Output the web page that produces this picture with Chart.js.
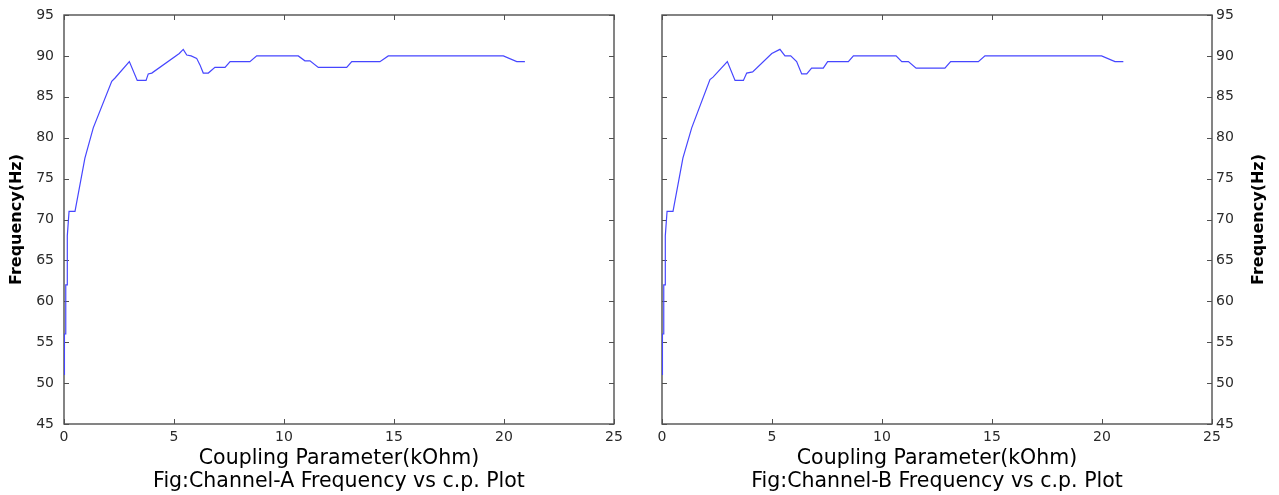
<!DOCTYPE html>
<html>
<head>
<meta charset="utf-8">
<title>Channel frequency vs coupling parameter</title>
<script src="https://cdn.jsdelivr.net/npm/chart.js@4/dist/chart.umd.min.js"></script>
<style>
  body { margin: 0; background: #fff; }
  #wrap { position: relative; width: 1279px; height: 495px; }
  #chartA { position: absolute; left: 0; top: 0; }
  #chartB { position: absolute; left: 640px; top: 0; }
</style>
</head>
<body>
<div id="wrap">
  <canvas id="chartA" width="640" height="495"></canvas>
  <canvas id="chartB" width="639" height="495"></canvas>
</div>
<script>
// coupling parameter (kOhm) and measured frequency (Hz), channel A
const cpA = [0.02, 0.02, 0.08, 0.08, 0.15, 0.15, 0.23, 0.5, 0.95, 1.33, 2.17, 2.32, 2.97, 3.33, 3.73, 3.83, 3.99,
  5.24, 5.42, 5.58, 5.78, 6.03, 6.18, 6.33, 6.56, 6.86, 7.32, 7.55, 8.45, 8.76, 10.65, 10.95, 11.18, 11.56,
  12.85, 13.08, 14.36, 14.74, 19.97, 20.58, 20.95];
const freqA = [51, 56, 56, 62, 62, 68, 71, 71, 77.5, 81.2, 86.9, 87.3, 89.3, 87.0, 87.0, 87.8, 87.9,
  90.3, 90.8, 90.1, 90.0, 89.7, 88.9, 87.9, 87.9, 88.6, 88.6, 89.3, 89.3, 90.0, 90.0, 89.4, 89.4, 88.6,
  88.6, 89.3, 89.3, 90.0, 90.0, 89.3, 89.3];

// channel B
const cpB = [0.02, 0.02, 0.08, 0.08, 0.15, 0.15, 0.23, 0.5, 0.95, 1.35, 2.18, 2.32, 2.97, 3.32, 3.70, 3.85, 4.12,
  4.99, 5.36, 5.59, 5.85, 6.12, 6.35, 6.58, 6.8, 7.33, 7.53, 8.47, 8.7, 10.64, 10.9, 11.2, 11.55,
  12.86, 13.12, 14.38, 14.68, 19.98, 20.59, 20.97];
const freqB = [51, 56, 56, 62, 62, 68, 71, 71, 77.5, 81.2, 87.1, 87.4, 89.3, 87.0, 87.0, 87.9, 88.05,
  90.3, 90.8, 90.0, 90.0, 89.3, 87.8, 87.8, 88.5, 88.5, 89.3, 89.3, 90.0, 90.0, 89.3, 89.3, 88.5,
  88.5, 89.3, 89.3, 90.0, 90.0, 89.3, 89.3];

const xTitle = 'Coupling Parameter(kOhm)';
const yTitle = 'Frequency(Hz)';
const captionA = 'Fig:Channel-A Frequency vs c.p. Plot';
const captionB = 'Fig:Channel-B Frequency vs c.p. Plot';

Chart.defaults.font.family = '"DejaVu Sans", sans-serif';
Chart.defaults.color = '#222';

const yTitleFont = 'bold 16px "DejaVu Sans", sans-serif';

// box around the plot area with inward tick marks on all four sides,
// plus the y title on the right panel (read bottom to top like the left one)
const boxFrame = {
  id: 'boxFrame',
  beforeDatasetsDraw(chart, args, opts) {
    const { ctx, chartArea: a, scales: { x, y } } = chart;
    const len = 5;
    ctx.save();
    ctx.strokeStyle = '#505050';
    ctx.lineWidth = 1.4;
    ctx.strokeRect(a.left, a.top, a.right - a.left, a.bottom - a.top);
    ctx.beginPath();
    x.ticks.forEach(t => {
      const px = Math.round(x.getPixelForValue(t.value)) + 0.5;
      ctx.moveTo(px, a.bottom); ctx.lineTo(px, a.bottom - len);
      ctx.moveTo(px, a.top); ctx.lineTo(px, a.top + len);
    });
    y.ticks.forEach(t => {
      const py = Math.round(y.getPixelForValue(t.value)) + 0.5;
      ctx.moveTo(a.left, py); ctx.lineTo(a.left + len, py);
      ctx.moveTo(a.right, py); ctx.lineTo(a.right - len, py);
    });
    ctx.lineWidth = 1;
    ctx.stroke();

    if (opts.rightTitle) {
      ctx.translate(opts.rightTitleX, (a.top + a.bottom) / 2);
      ctx.rotate(-Math.PI / 2);
      ctx.font = yTitleFont;
      ctx.fillStyle = '#000';
      ctx.textAlign = 'center';
      ctx.textBaseline = 'middle';
      ctx.fillText(opts.rightTitle, 0, 0);
    }
    ctx.restore();
  }
};

// fixed axis sizes; the plot area comes only from layout.padding
function fixSize(w, h) {
  return s => {
    if (w !== null) s.width = w;
    if (h !== null) s.height = h;
    s.paddingTop = s.paddingBottom = s.paddingLeft = s.paddingRight = 0;
  };
}

function makeChart(id, xs, ys, caption, side) {
  const pts = xs.map((v, i) => ({ x: v, y: ys[i] }));
  const left = side === 'left';
  return new Chart(document.getElementById(id), {
    type: 'line',
    data: {
      datasets: [{
        data: pts,
        borderColor: '#4646ff',
        borderWidth: 1.2,
        pointRadius: 0,
        tension: 0,
        fill: false
      }]
    },
    options: {
      responsive: false,
      animation: false,
      layout: {
        padding: left ? { left: 0, right: 26, top: 15, bottom: 0 } : { left: 22, right: 0, top: 15, bottom: 0 }
      },
      scales: {
        x: {
          type: 'linear',
          min: 0,
          max: 25,
          grid: { display: false, drawTicks: false },
          border: { display: false },
          ticks: { stepSize: 5, padding: 5, font: { size: 14 }, color: '#2a2a2a', maxRotation: 0 },
          title: {
            display: true,
            text: [xTitle, caption],
            font: { size: 20.5, lineHeight: 1.12 },
            color: '#000',
            padding: { top: 0, bottom: 2 }
          },
          afterFit: fixSize(null, 71)
        },
        y: {
          position: side,
          min: 45,
          max: 95,
          grid: { display: false, drawTicks: false },
          border: { display: false },
          ticks: { stepSize: 5, padding: left ? 10 : 4, font: { size: 14 }, color: '#2a2a2a' },
          title: {
            display: left,
            text: yTitle,
            font: { size: 16, weight: 'bold' },
            color: '#000',
            padding: { top: 7, bottom: 0 }
          },
          afterFit: fixSize(left ? 64 : 67, null)
        }
      },
      plugins: {
        legend: { display: false },
        tooltip: { enabled: false },
        boxFrame: left ? {} : { rightTitle: yTitle, rightTitleX: 619 }
      }
    },
    plugins: [boxFrame]
  });
}

makeChart('chartA', cpA, freqA, captionA, 'left');
makeChart('chartB', cpB, freqB, captionB, 'right');
</script>
</body>
</html>
